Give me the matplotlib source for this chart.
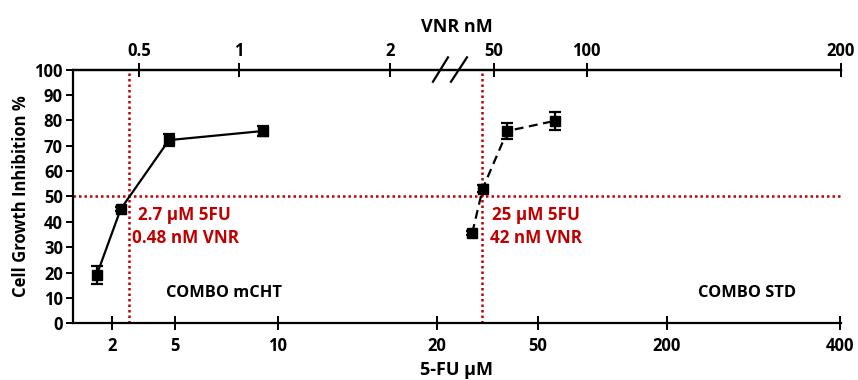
import matplotlib
matplotlib.use("Agg")
import matplotlib.pyplot as plt
import numpy as np

plt.rcParams['font.family'] = ['Open Sans', 'DejaVu Sans']
plt.rcParams['font.weight'] = 'bold'

# Axis positions (broken, non-uniform axis -> tick positions in axis units)
bottom_tick_pos = [39.3, 102.3, 205.3, 364.3, 465.0, 594.3, 767.5]
bottom_tick_labels = ['2', '5', '10', '20', '50', '200', '400']
top_tick_pos = [66.3, 166.3, 317.3, 421.3, 514.0, 768.3]
top_tick_labels = ['0.5', '1', '2', '50', '100', '200']

# COMBO mCHT (solid)
mcht_x = [24.0, 48.0, 96.3, 190.6]
mcht_y = [19.0, 45.0, 72.2, 75.8]
mcht_err = [3.5, 0.8, 2.5, 2.0]

# COMBO STD (dashed)
std_x = [399.6, 410.0, 434.8, 482.3]
std_y = [35.7, 53.1, 75.8, 79.8]
std_err = [0.8, 1.5, 3.0, 3.5]

# IC50 reference lines
ic50_x = [56.3, 409.0]
ic50_y = 50

red = '#C00000'

fig = plt.figure(figsize=(8.58, 3.80), dpi=100)
ax = fig.add_axes([0.0847, 0.149, 0.8955, 0.668])
ax.set_xlim(0, 768.3)
ax.set_ylim(0, 100)

# reference lines
ax.axhline(ic50_y, color=red, lw=1.8, ls=(0, (1, 1.2)), zorder=1)
for xv in ic50_x:
    ax.axvline(xv, color=red, lw=1.8, ls=(0, (1, 1.2)), zorder=1)

ax.errorbar(mcht_x, mcht_y, yerr=mcht_err, color='black', lw=1.6, ls='-',
            marker='s', ms=7.5, capsize=4, capthick=1.6, elinewidth=1.6, zorder=3)
ax.errorbar(std_x, std_y, yerr=std_err, color='black', lw=1.6, ls=(0, (4, 2.5)),
            marker='s', ms=7.5, capsize=4, capthick=1.6, elinewidth=1.6, zorder=3)

for s in ['left', 'bottom', 'top']:
    ax.spines[s].set_linewidth(1.6)
ax.spines['right'].set_visible(False)

fs_tick = 12
ax.set_yticks(np.arange(0, 101, 10))
ax.tick_params(axis='y', direction='out', length=5, width=1.4, labelsize=fs_tick, pad=2)
ax.set_xticks(bottom_tick_pos)
ax.set_xticklabels(bottom_tick_labels)
ax.tick_params(axis='x', direction='inout', length=10, width=1.4, labelsize=fs_tick, pad=5)
for lab in ax.get_xticklabels() + ax.get_yticklabels():
    lab.set_fontweight('bold')

top = ax.secondary_xaxis('top')
top.set_xticks(top_tick_pos)
top.set_xticklabels(top_tick_labels, fontweight='bold')
top.tick_params(direction='inout', length=10, width=1.4, labelsize=fs_tick, pad=2)
top.spines['top'].set_linewidth(1.6)
top.set_xlabel('VNR nM', fontsize=13, fontweight='bold', labelpad=7)

ax.set_xlabel('5-FU µM', fontsize=13, fontweight='bold', labelpad=4)
ax.set_ylabel('Cell Growth Inhibition %', fontsize=12, fontweight='bold', labelpad=3)

# axis break marks on top axis
for x0, x1 in [(433, 448), (451, 467)]:
    ax.plot([(x0 - 72.7) / 768.3, (x1 - 72.7) / 768.3], [1 - 0.048, 1 + 0.048],
            transform=ax.transAxes, color='black', lw=1.6, clip_on=False, zorder=5)

fs_ann = 12.3
ax.text(65.5, 42.8, '2.7 µM 5FU', color=red, fontsize=fs_ann, fontweight='bold', va='center')
ax.text(59.0, 33.6, '0.48 nM VNR', color=red, fontsize=fs_ann, fontweight='bold', va='center')
ax.text(419.0, 42.8, '25 µM 5FU', color=red, fontsize=fs_ann, fontweight='bold', va='center')
ax.text(417.3, 33.6, '42 nM VNR', color=red, fontsize=fs_ann, fontweight='bold', va='center')
ax.text(93.0, 12, 'COMBO mCHT', color='black', fontsize=11.8, fontweight='bold', va='center')
ax.text(625.3, 12, 'COMBO STD', color='black', fontsize=11.8, fontweight='bold', va='center')

fig.savefig('out.png', dpi=100)
